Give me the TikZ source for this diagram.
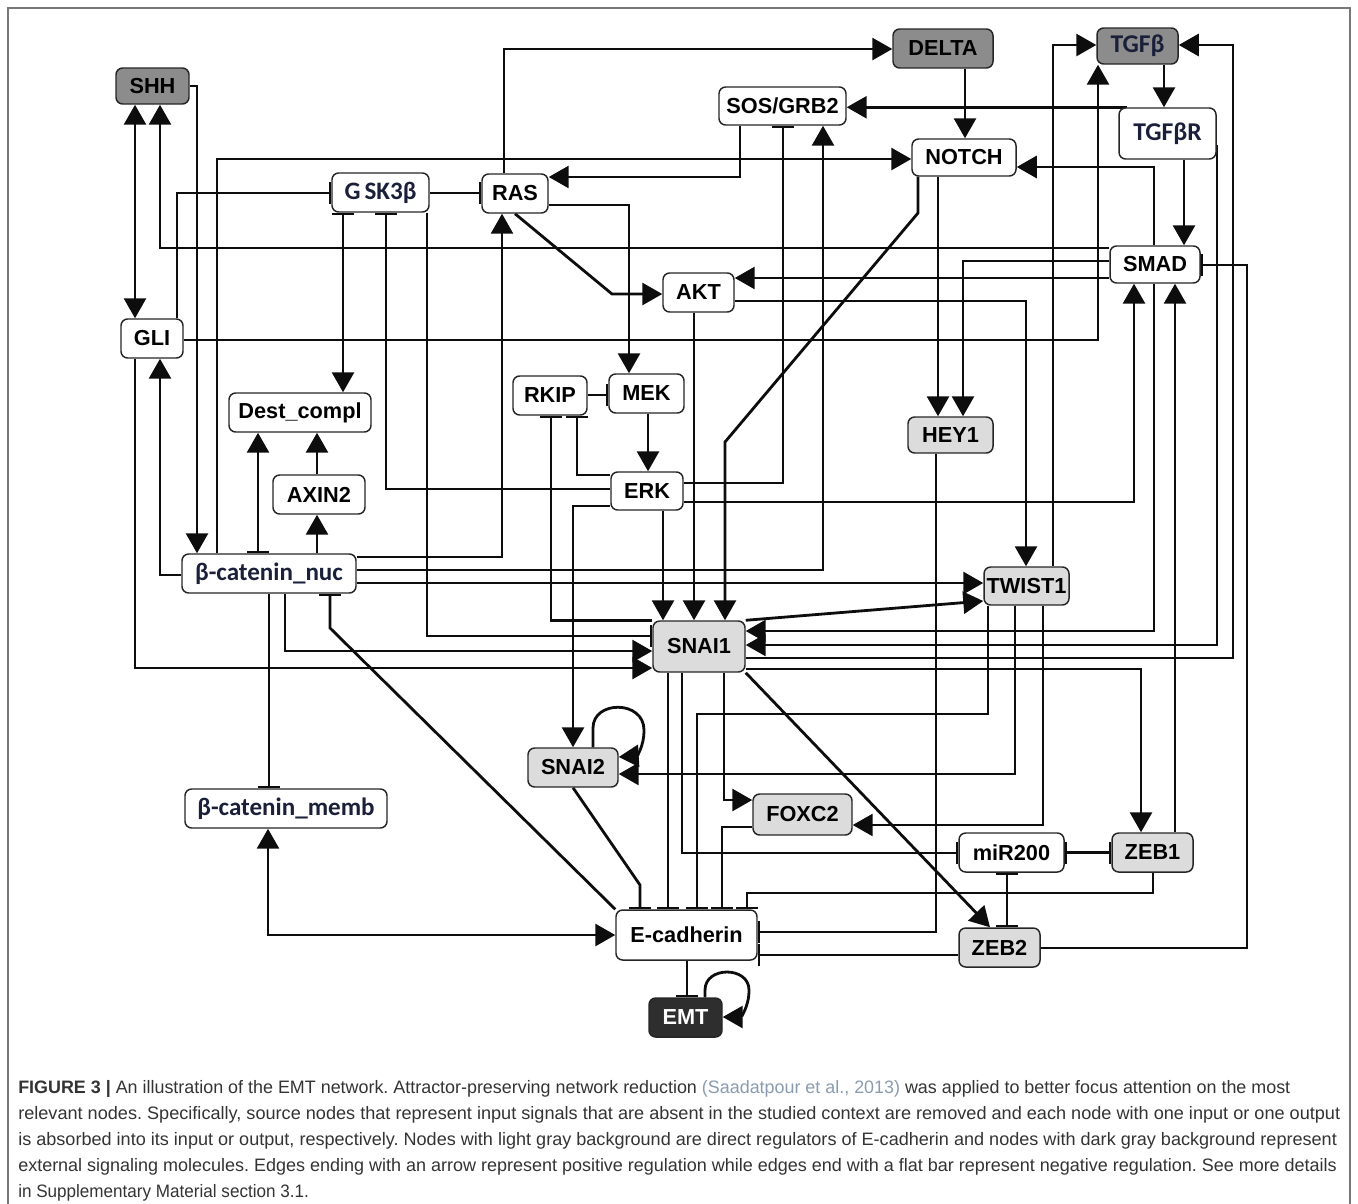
\documentclass[tikz,border=0pt]{standalone}
\usepackage{fontspec}
\usepackage{graphicx}
\setmainfont{Liberation Sans}
\newfontfamily\calfont{Carlito}
\newfontfamily\capfont{Liberation Sans}
\usetikzlibrary{arrows.meta}
\pgfdeclarelayer{bg}
\pgfsetlayers{bg,main}
\frenchspacing
\definecolor{darkfill}{HTML}{8C8C8C}
\definecolor{lightfill}{HTML}{DCDCDC}
\definecolor{emtfill}{HTML}{2E2E2E}
\definecolor{edgecol}{HTML}{0D0D0D}
\definecolor{calblue}{HTML}{1A1F3A}
\definecolor{captext}{HTML}{333333}
\definecolor{caplink}{HTML}{8A9BB0}
\definecolor{framecol}{HTML}{777777}
\tikzset{
  box/.style={draw=black!85, line width=1.1pt, rounded corners=5pt, fill=white, inner sep=0pt, align=center},
  lt/.style={box, fill=lightfill},
  dk/.style={box, fill=darkfill},
  blk/.style={box, fill=emtfill, text=white},
  cal/.style={font=\calfont\bfseries\fontsize{18.8}{21}\selectfont, text=calblue},
  calb/.style={font=\calfont\bfseries\fontsize{19.2}{21}\selectfont, text=calblue},
  edge/.style={line width=2.1pt, draw=edgecol},
  tA/.style={edge, -{Triangle[length=15pt,width=16.5pt]}},
  tAA/.style={edge, {Triangle[length=15pt,width=16.5pt]}-{Triangle[length=15pt,width=16.5pt]}},
  tI/.style={edge, -{Bar[width=16.5pt,line width=1.6pt]}},
  tII/.style={edge, {Bar[width=16.5pt,line width=1.6pt]}-{Bar[width=16.5pt,line width=1.6pt]}},
  tIA/.style={edge, {Bar[width=16.5pt,line width=1.6pt]}-{Triangle[length=15pt,width=16.5pt]}},
  capline/.style={anchor=base west, inner sep=0pt, text=captext, font=\capfont\fontsize{13.5}{16}\selectfont}
}
\begin{document}
\begin{tikzpicture}[x=0.75pt, y=-0.75pt, font=\bfseries\fontsize{16.3}{19}\selectfont]
\useasboundingbox (0,0) rectangle (1358,1203);
\draw[framecol, line width=0.8pt] (8,1215) -- (8,8) -- (1350,8) -- (1350,1215);

% nodes
\node[dk, minimum width=73*0.75pt, minimum height=36*0.75pt] (SHH) at (152.5,86) {SHH};
\node[dk, minimum width=100*0.75pt, minimum height=39*0.75pt] (DELTA) at (943,48.5) {DELTA};
\node[dk, minimum width=81*0.75pt, minimum height=36*0.75pt, calb] (TGFb) at (1137.5,46) {TGFβ};
\node[box, minimum width=127*0.75pt, minimum height=38*0.75pt] (SOS) at (782.5,106) {SOS/GRB2};
\node[box, minimum width=97*0.75pt, minimum height=51*0.75pt, calb] (TGFbR) at (1167.5,133.5) {TGFβR};
\node[box, minimum width=104*0.75pt, minimum height=37*0.75pt] (NOTCH) at (964,157.5) {NOTCH};
\node[box, minimum width=97*0.75pt, minimum height=39*0.75pt, cal] (GSK) at (380.5,192.5) {G\kern3pt SK3β};
\node[box, minimum width=66*0.75pt, minimum height=39*0.75pt] (RAS) at (515,193.5) {RAS};
\node[box, minimum width=90*0.75pt, minimum height=37*0.75pt] (SMAD) at (1155,264.5) {SMAD};
\node[box, minimum width=71*0.75pt, minimum height=39*0.75pt] (AKT) at (698.5,292.5) {AKT};
\node[box, minimum width=62*0.75pt, minimum height=39*0.75pt] (GLI) at (152,338.5) {GLI};
\node[box, minimum width=74*0.75pt, minimum height=39*0.75pt] (RKIP) at (550,395.5) {RKIP};
\node[box, minimum width=75*0.75pt, minimum height=39*0.75pt] (MEK) at (646.5,393.5) {MEK};
\node[box, minimum width=142*0.75pt, minimum height=39*0.75pt] (Dest) at (300,412.5) {Dest\_compl};
\node[lt, minimum width=85*0.75pt, minimum height=36*0.75pt] (HEY1) at (950.5,435) {HEY1};
\node[box, minimum width=72*0.75pt, minimum height=38*0.75pt] (ERK) at (647,491) {ERK};
\node[box, minimum width=92*0.75pt, minimum height=39*0.75pt] (AXIN2) at (319,494.5) {AXIN2};
\node[box, minimum width=174*0.75pt, minimum height=39*0.75pt, cal] (bnuc) at (269,573.5) {β-catenin\_nuc};
\node[lt, minimum width=85*0.75pt, minimum height=38*0.75pt] (TWIST1) at (1026.5,586) {TWIST1};
\node[lt, minimum width=92*0.75pt, minimum height=51*0.75pt] (SNAI1) at (699,646.5) {SNAI1};
\node[lt, minimum width=90*0.75pt, minimum height=39*0.75pt] (SNAI2) at (573,767.5) {SNAI2};
\node[box, minimum width=202*0.75pt, minimum height=39*0.75pt, cal] (bmemb) at (286,808.5) {β-catenin\_memb};
\node[lt, minimum width=99*0.75pt, minimum height=41*0.75pt] (FOXC2) at (802.5,814.5) {FOXC2};
\node[box, minimum width=105*0.75pt, minimum height=39*0.75pt] (miR200) at (1011.5,852.5) {miR200};
\node[lt, minimum width=81*0.75pt, minimum height=39*0.75pt] (ZEB1) at (1152.5,852.5) {ZEB1};
\node[box, minimum width=141*0.75pt, minimum height=50*0.75pt] (Ecad) at (686.5,935) {E-cadherin};
\node[lt, minimum width=81*0.75pt, minimum height=39*0.75pt] (ZEB2) at (999.5,947.5) {ZEB2};
\node[blk, minimum width=73*0.75pt, minimum height=39*0.75pt] (EMT) at (685.5,1017.5) {EMT};

\begin{pgfonlayer}{bg}
\draw[tAA] (135,0 |- SHH.south) -- (135,0 |- GLI.north);
\draw[tA] (SMAD.west |- 0,248) -| (160,0 |- SHH.south);
\draw[tA] (SHH.east |- 0,86) -| (197,0 |- bnuc.north);
\draw[tI] (177,0 |- GLI.north) |- (GSK.west |- 0,193);
\draw[tI] (GSK.east |- 0,193) -- (RAS.west |- 0,193);
\draw[tA] (504,0 |- RAS.north) |- (DELTA.west |- 0,49);
\draw[tA] (965,0 |- DELTA.south) -- (965,0 |- NOTCH.north);
\draw[tA] (1164,0 |- TGFb.south) -- (1164,0 |- TGFbR.north);
\draw[tA] (1127,0 |- TGFbR.north) -- (SOS.east |- TGFbR.north);
\draw[tA] (1184,0 |- TGFbR.south) -- (1184,0 |- SMAD.north);
\draw[tA] (740,0 |- SOS.south) |- (RAS.east |- 0,177);
\draw[tI] (ERK.east |- 0,483) -| (783,0 |- SOS.south);
\draw[tA] (bnuc.east |- 0,570) -| (823,0 |- SOS.south);
\draw[tA] (217,0 |- bnuc.north) |- (NOTCH.west |- 0,159);
\draw[tA] (1154,0 |- SMAD.north) |- (NOTCH.east |- 0,167);
\draw[tA] (1154,0 |- SMAD.south) |- (SNAI1.east |- 0,631);
\draw[tA] (938,0 |- NOTCH.south) -- (938,0 |- HEY1.north);
\draw[tA] (SMAD.west |- 0,261) -| (963,0 |- HEY1.north);
\draw[tA] (SMAD.west |- 0,278) -- (AKT.east |- 0,278);
\draw[tA] (AKT.east |- 0,301) -| (1026,0 |- TWIST1.north);
\draw[tA] (1053,0 |- TWIST1.north) |- (TGFb.west |- 0,45);
\draw[tA] (GLI.east |- 0,340) -| (1098,0 |- TGFb.south);
\draw[tA] (ERK.east |- 0,502) -| (1134,0 |- SMAD.south);
\draw[tA] (1175,0 |- ZEB1.north) -- (1175,0 |- SMAD.south);
\draw[tA] (TGFbR.east |- 0,146) -| (1217,645) -- (SNAI1.east |- 0,645);
\draw[tA] (SNAI1.east |- 0,658) -| (1233,45) -- (TGFb.east |- 0,45);
\draw[tI] (ZEB2.east |- 0,948) -| (1247,265) -- (SMAD.east |- 0,265);
\draw[tA] (SNAI1.east |- 0,669) -| (1141,0 |- ZEB1.north);
\draw[tA] (RAS.east |- 0,205) -| (629,0 |- MEK.north);
\draw[tA] (RAS.south) -- (612,294) -- (AKT.west |- 0,294);
\draw[tI] (RKIP.east |- 0,395) -- (MEK.west |- 0,395);
\draw[tA] (648,0 |- MEK.south) -- (648,0 |- ERK.north);
\draw[tI] (ERK.west |- 0,475) -| (577,0 |- RKIP.south);
\draw[tI] (SNAI1.north west) -| (551,0 |- RKIP.south);
\draw[tI] (427,0 |- GSK.south) |- (SNAI1.west |- 0,636);
\draw[tI] (ERK.west |- 0,489) -| (386,0 |- GSK.south);
\draw[tIA] (343,0 |- GSK.south) -- (343,0 |- Dest.north);
\draw[tA] (ERK.west |- 0,506) -| (573,0 |- SNAI2.north);
\draw[tA] (663,0 |- ERK.south) -- (663,0 |- SNAI1.north);
\draw[tA] (694,0 |- AKT.south) -- (694,0 |- SNAI1.north);
\draw[tA] (918,0 |- NOTCH.south) -- (918,213) -- (725,442) -- (725,0 |- SNAI1.north);
\draw[tA] (bnuc.east |- 0,557) -| (502,0 |- RAS.south);
\draw[tA] (bnuc.east |- 0,583) -- (TWIST1.west |- 0,583);
\draw[tA] (SNAI1.north east) -- (TWIST1.west |- 0,601);
\draw[tA] (bnuc.west |- 0,575) -| (160,0 |- GLI.south);
\draw[tIA] (258,0 |- bnuc.north) -- (258,0 |- Dest.south);
\draw[tA] (317,0 |- bnuc.north) -- (317,0 |- AXIN2.south);
\draw[tA] (317,0 |- AXIN2.north) -- (317,0 |- Dest.south);
\draw[tI] (269,0 |- bnuc.south) -- (269,0 |- bmemb.north);
\draw[tA] (285,0 |- bnuc.south) |- (SNAI1.west |- 0,651);
\draw[tA] (135,0 |- GLI.south) |- (SNAI1.west |- 0,668);
\draw[tI] (Ecad.north west) -- (330,628) -- (330,0 |- bnuc.south);
\draw[tAA] (268,0 |- bmemb.south) |- (Ecad.west |- 0,935);
\draw[tA] (593,0 |- SNAI2.north) -- (593,728) .. controls (593,700) and (644,700) .. (644,730) .. controls (644,748) and (636,756) .. (SNAI2.east |- 0,757);
\draw[tI] (573,0 |- SNAI2.south) -- (640,885) -- (640,0 |- Ecad.north);
\draw[tI] (668,0 |- SNAI1.south) -- (668,0 |- Ecad.north);
\draw[tI] (682,0 |- SNAI1.south) |- (miR200.west |- 0,853);
\draw[tA] (724,0 |- SNAI1.south) |- (FOXC2.west |- 0,800);
\draw[tA] (SNAI1.south east) -- (990,0 |- ZEB2.north);
\draw[tI] (988,0 |- TWIST1.south) |- (697,714) -- (697,0 |- Ecad.north);
\draw[tA] (1015,0 |- TWIST1.south) |- (SNAI2.east |- 0,774);
\draw[tA] (1043,0 |- TWIST1.south) |- (FOXC2.east |- 0,825);
\draw[tI] (FOXC2.west |- 0,827) -| (722,0 |- Ecad.north);
\draw[tI] (1153,0 |- ZEB1.south) |- (747,893) -- (747,0 |- Ecad.north);
\draw[tII] (miR200.east) -- (ZEB1.west);
\draw[tII] (1007,0 |- miR200.south) -- (1007,0 |- ZEB2.north);
\draw[tI] (936,0 |- HEY1.south) |- (Ecad.east |- 0,932);
\draw[tI] (ZEB2.west |- 0,955) -- (Ecad.east |- 0,955);
\draw[tI] (687,0 |- Ecad.south) -- (687,0 |- EMT.north);
\draw[tA] (705,0 |- EMT.north) -- (705,990) .. controls (705,966) and (749,966) .. (749,990) .. controls (749,1008) and (740,1017) .. (EMT.east |- 0,1017);
\end{pgfonlayer}

% caption
\node[capline] (cap1) at (18,1093) {\resizebox{954pt}{\height}{\textbf{FIGURE 3 |} An illustration of the EMT network. Attractor-preserving network reduction {\color{caplink}(Saadatpour et al., 2013)} was applied to better focus attention on the most}};
\node[capline] (cap2) at (18,1119) {\resizebox{991.5pt}{\height}{relevant nodes. Specifically, source nodes that represent input signals that are absent in the studied context are removed and each node with one input or one output}};
\node[capline] (cap3) at (18,1145) {\resizebox{989pt}{\height}{is absorbed into its input or output, respectively. Nodes with light gray background are direct regulators of E-cadherin and nodes with dark gray background represent}};
\node[capline] (cap4) at (18,1171) {\resizebox{989pt}{\height}{external signaling molecules. Edges ending with an arrow represent positive regulation while edges end with a flat bar represent negative regulation. See more details}};
\node[capline] (cap5) at (18,1197) {\resizebox{218pt}{\height}{in Supplementary Material section 3.1.}};
\end{tikzpicture}
\end{document}
